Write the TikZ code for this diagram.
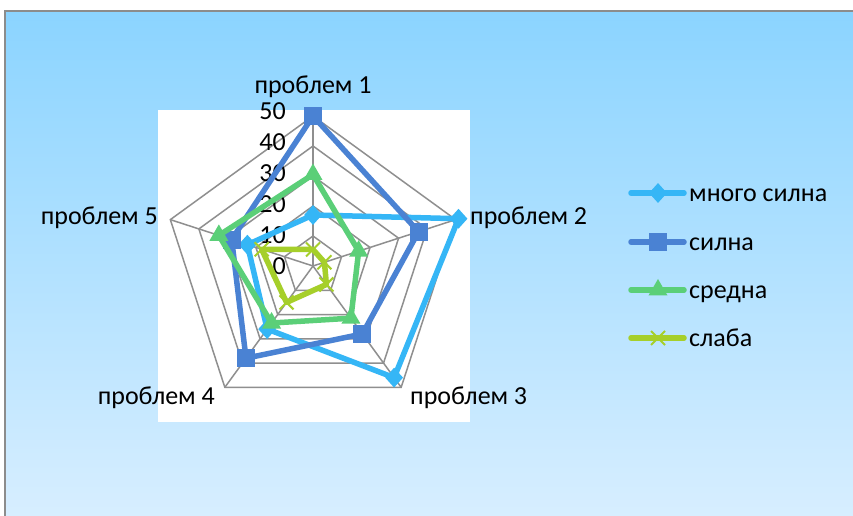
\documentclass[tikz,border=0pt]{standalone}
\usepackage{fontspec}
\setmainfont{Carlito}
\usetikzlibrary{shapes.geometric,shapes.misc}
\definecolor{bgtop}{HTML}{8BD4FF}
\definecolor{bgbot}{HTML}{D7EEFF}
\definecolor{frame}{HTML}{8C8C8C}
\definecolor{gridc}{HTML}{8F8F8F}
\definecolor{cA}{HTML}{35B6F6}
\definecolor{cB}{HTML}{4A82D3}
\definecolor{cC}{HTML}{5BCF78}
\definecolor{cD}{HTML}{A6CF2A}
\tikzset{
  gridline/.style={draw=gridc,line width=1.5pt},
  serline/.style={line width=5.5pt,line join=round,line cap=round},
  lab/.style={font=\fontsize{26}{31}\selectfont,inner sep=0pt},
  mkA/.style={diamond,fill=cA,minimum width=18pt,minimum height=20pt,inner sep=0pt},
  mkB/.style={rectangle,fill=cB,minimum size=18pt,inner sep=0pt},
  mkC/.style={regular polygon,regular polygon sides=3,fill=cC,minimum size=22pt,inner sep=0pt},
  mkD/.style={cross out,draw=cD,line width=2pt,minimum size=12pt,inner sep=0pt},
}
\begin{document}
\begin{tikzpicture}[x=1pt,y=1pt]
\useasboundingbox (0,0) rectangle (853,516);
\fill[white] (0,0) rectangle (853,516);
\shade[top color=bgtop,bottom color=bgbot] (5,0) rectangle (853,505);
\draw[frame,line width=1.3pt] (5,0) -- (5,505) -- (853,505);
\fill[white] (158,94) rectangle (470,406);
\begin{scope}[shift={(313,250)}]
  % grid
  \foreach \r in {30,60,90,120,150}
    \draw[gridline] (90:\r) -- (18:\r) -- (-54:\r) -- (-126:\r) -- (162:\r) -- cycle;
  \coordinate (O) at (0,0);
  \foreach \a/\n in {90/1,18/2,-54/3,-126/4,162/5}
    \coordinate (ax\n) at (\a:150);
  \foreach \n in {1,...,5}
    \draw[gridline] (O) -- (ax\n);
  % value labels
  \foreach \v in {0,10,20,30,40,50}
    \node[lab,anchor=base east] (v\v) at (-27,{3.1*\v-9}) {\v};
  % category labels
  \node[lab,anchor=base] (p1) at (0,172) {проблем 1};
  \node[lab,anchor=base west] (p2) at (157,41) {проблем 2};
  \node[lab,anchor=base west] (p3) at (97,-139) {проблем 3};
  \node[lab,anchor=base east] (p4) at (-98,-139) {проблем 4};
  \node[lab,anchor=base east] (p5) at (-155,41) {проблем 5};
  % series много силна
  \foreach \a/\v/\n in {90/17/1,18/51/2,-54/46/3,-126/26/4,162/23/5}
    \coordinate (A\n) at (\a:{3*\v});
  \draw[serline,cA] (A1) -- (A2) -- (A3) -- (A4) -- (A5) -- cycle;
  \foreach \n in {1,...,5} \node[mkA] (mA\n) at (A\n) {};
  % series силна
  \foreach \a/\v/\n in {90/50/1,18/37/2,-54/28/3,-126/38/4,162/28.5/5}
    \coordinate (B\n) at (\a:{3*\v});
  \draw[serline,cB] (B1) -- (B2) -- (B3) -- (B4) -- (B5) -- cycle;
  \foreach \n in {1,...,5} \node[mkB] (mB\n) at (B\n) {};
  % series средна
  \foreach \a/\v/\n in {90/30.5/1,18/16/2,-54/21.5/3,-126/23.5/4,162/33/5}
    \coordinate (C\n) at (\a:{3*\v});
  \draw[serline,cC] (C1) -- (C2) -- (C3) -- (C4) -- (C5) -- cycle;
  \foreach \n in {1,...,5} \node[mkC] (mC\n) at (C\n) {};
  % series слаба
  \foreach \a/\v/\n in {90/5.5/1,18/4/2,-54/7.6/3,-126/15/4,162/18/5}
    \coordinate (D\n) at (\a:{3*\v});
  \draw[serline,cD] (D1) -- (D2) -- (D3) -- (D4) -- (D5) -- cycle;
  \foreach \n in {1,...,5} \node[mkD] (mD\n) at (D\n) {};
\end{scope}
% legend
\foreach \y/\c/\m/\t/\k in {323/cA/mkA/{много силна}/1,274/cB/mkB/{силна}/2,226/cC/mkC/{средна}/3,178/cD/mkD/{слаба}/4}{
  \coordinate (ls\k) at (631,\y);
  \coordinate (le\k) at (684,\y);
  \draw[\c,line width=5.5pt,line cap=round] (ls\k) -- (le\k);
  \node[\m] (lm\k) at (658,\y) {};
  \node[lab,anchor=base west] (lt\k) at (689,\y-9) {\t};
}
\end{tikzpicture}
\end{document}
